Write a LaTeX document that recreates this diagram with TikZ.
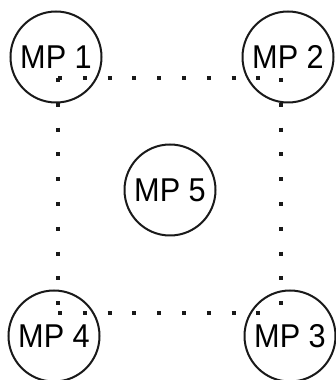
\documentclass[tikz,border=0pt]{standalone}
\usepackage{fontspec}
\setmainfont{Liberation Sans}
\newcommand{\mplabel}[1]{\scalebox{0.93}[1]{MP #1}}
\begin{document}
\begin{tikzpicture}[x=1pt,y=1pt,
  mp/.style={circle,draw=black!90,line width=2pt,minimum size=91pt,inner sep=0pt,font=\fontsize{33}{33}\selectfont},
  dotline/.style={line width=4pt,dash pattern=on 4pt off 20.8pt,black!90}]
\useasboundingbox (0,0) rectangle (336,380);
\coordinate (c1) at (58,302);
\coordinate (c2) at (281,302);
\coordinate (c3) at (281,67);
\coordinate (c4) at (58,67);
\draw[dotline] (c1) -- (c2);
\draw[dotline] (c2) -- (c3);
\draw[dotline] (c4) -- (c3);
\draw[dotline] (c1) -- (c4);
\node[mp] (mp1) at (56,323) {\mplabel{1}};
\node[mp] (mp2) at (288,323) {\mplabel{2}};
\node[mp] (mp5) at (170,190) {\mplabel{5}};
\node[mp] (mp4) at (54,44) {\mplabel{4}};
\node[mp] (mp3) at (290,44) {\mplabel{3}};
\end{tikzpicture}
\end{document}
